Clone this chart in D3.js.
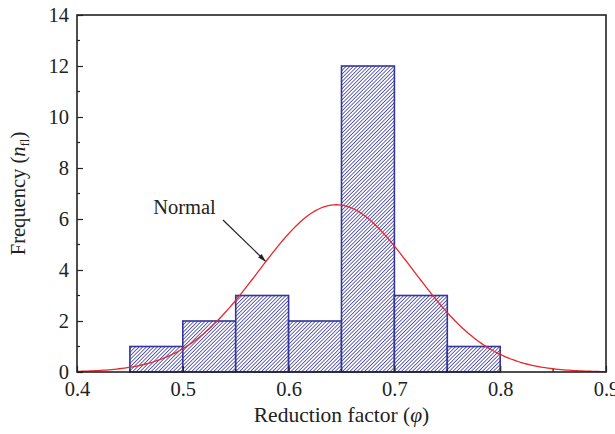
<!DOCTYPE html>
<html>
<head>
<meta charset="utf-8">
<script src="https://cdn.jsdelivr.net/npm/d3@7"></script>
<style>
  body { margin: 0; background: #fff; }
  text { font-family: "Liberation Serif", "DejaVu Serif", serif; fill: #222; }
</style>
</head>
<body>
<div id="chart"></div>
<script>
// Histogram bins (lower edge) and counts
const binStarts = [0.45, 0.5, 0.55, 0.6, 0.65, 0.7, 0.75];
const binWidth = 0.05;
const counts = [1, 2, 3, 2, 12, 3, 1];

// Normal fit parameters
const normalMean = 0.645;
const normalSD = 0.073;

const xTicks = [0.4, 0.5, 0.6, 0.7, 0.8, 0.9];
const yTicks = [0, 2, 4, 6, 8, 10, 12, 14];

const width = 615, height = 434;
const margin = { top: 15, right: 9, bottom: 62, left: 77 };

const svg = d3.select("#chart").append("svg")
  .attr("width", width)
  .attr("height", height);

const x = d3.scaleLinear().domain([0.4, 0.9]).range([margin.left, width - margin.right]);
const y = d3.scaleLinear().domain([0, 14]).range([height - margin.bottom, margin.top]);

// Hatch pattern (fine "/" lines)
const hp = 2.6;
const pat = svg.append("defs").append("pattern")
  .attr("id", "hatch")
  .attr("patternUnits", "userSpaceOnUse")
  .attr("width", hp)
  .attr("height", hp)
  .attr("patternTransform", "rotate(45)");
pat.append("rect").attr("width", hp).attr("height", hp).attr("fill", "#fff");
pat.append("line")
  .attr("x1", 0).attr("y1", 0).attr("x2", 0).attr("y2", hp)
  .attr("stroke", "#34349c").attr("stroke-width", 1.5);

// Bars
svg.append("g").selectAll("rect")
  .data(binStarts)
  .enter().append("rect")
  .attr("x", d => x(d))
  .attr("y", (d, i) => y(counts[i]))
  .attr("width", d => x(d + binWidth) - x(d))
  .attr("height", (d, i) => y(0) - y(counts[i]))
  .attr("fill", "url(#hatch)")
  .attr("stroke", "#35359a")
  .attr("stroke-width", 1.6);

// Normal curve scaled to counts
const total = d3.sum(counts);
const pdf = v => total * binWidth / (normalSD * Math.sqrt(2 * Math.PI)) *
  Math.exp(-((v - normalMean) ** 2) / (2 * normalSD * normalSD));
const curveX = d3.range(0.4, 0.9001, 0.0025);
svg.append("path")
  .datum(curveX)
  .attr("fill", "none")
  .attr("stroke", "#e8262b")
  .attr("stroke-width", 1.3)
  .attr("d", d3.line().x(d => x(d)).y(d => y(pdf(d))));

// Axes: inward ticks
const xAxis = d3.axisBottom(x).tickValues(xTicks).tickSize(-6).tickPadding(10)
  .tickFormat(d3.format(".1f"));
const gx = svg.append("g")
  .attr("transform", `translate(0,${y(0)})`)
  .call(xAxis);
gx.selectAll(".tick text").attr("font-size", 20.5).attr("dy", "0.68em");

const yAxis = d3.axisLeft(y).tickValues(yTicks).tickSize(-6).tickPadding(8);
const gy = svg.append("g")
  .attr("transform", `translate(${x(0.4)},0)`)
  .call(yAxis);
gy.selectAll(".tick text").attr("font-size", 20.5);

[gx, gy].forEach(g => {
  g.select(".domain").remove();
  g.selectAll(".tick line").attr("stroke", "#222").attr("stroke-width", 1.2);
  g.selectAll(".tick text").style("font-family", "Liberation Serif, serif").attr("fill", "#222");
});

// Minor ticks
svg.append("g").selectAll("line")
  .data([0.45, 0.55, 0.65, 0.75, 0.85])
  .enter().append("line")
  .attr("x1", d => x(d)).attr("x2", d => x(d))
  .attr("y1", y(0)).attr("y2", y(0) - 3)
  .attr("stroke", "#222").attr("stroke-width", 1.2);
svg.append("g").selectAll("line")
  .data([1, 3, 5, 7, 9, 11, 13])
  .enter().append("line")
  .attr("x1", x(0.4)).attr("x2", x(0.4) + 3)
  .attr("y1", d => y(d)).attr("y2", d => y(d))
  .attr("stroke", "#222").attr("stroke-width", 1.2);

// Frame
svg.append("rect")
  .attr("x", x(0.4)).attr("y", y(14))
  .attr("width", x(0.9) - x(0.4))
  .attr("height", y(0) - y(14))
  .attr("fill", "none")
  .attr("stroke", "#222")
  .attr("stroke-width", 1.6);

// Axis titles
const xt = svg.append("text")
  .attr("x", (x(0.4) + x(0.9)) / 2)
  .attr("y", 422)
  .attr("text-anchor", "middle")
  .attr("font-size", 21.5);
xt.append("tspan").text("Reduction factor (");
xt.append("tspan").attr("font-style", "italic").text("φ");
xt.append("tspan").text(")");

const yt = svg.append("text")
  .attr("transform", `translate(25,${(y(0) + y(14)) / 2}) rotate(-90)`)
  .attr("text-anchor", "middle")
  .attr("font-size", 20.5);
yt.append("tspan").text("Frequency (");
yt.append("tspan").attr("font-style", "italic").text("n");
yt.append("tspan").attr("font-size", 13).attr("dy", 4).text("fl");
yt.append("tspan").attr("dy", -4).text(")");

// Annotation
svg.append("defs").append("marker")
  .attr("id", "arrow")
  .attr("viewBox", "0 0 10 10")
  .attr("refX", 9).attr("refY", 5)
  .attr("markerWidth", 9).attr("markerHeight", 7)
  .attr("orient", "auto")
  .append("path")
  .attr("d", "M0,2 L10,5 L0,8 Z")
  .attr("fill", "#222");

svg.append("line")
  .attr("x1", x(0.538)).attr("y1", y(5.96))
  .attr("x2", x(0.578)).attr("y2", y(4.35))
  .attr("stroke", "#222")
  .attr("stroke-width", 1.2)
  .attr("marker-end", "url(#arrow)");

svg.append("text")
  .attr("x", x(0.472))
  .attr("y", y(6.2))
  .attr("font-size", 20.5)
  .text("Normal");
</script>
</body>
</html>
